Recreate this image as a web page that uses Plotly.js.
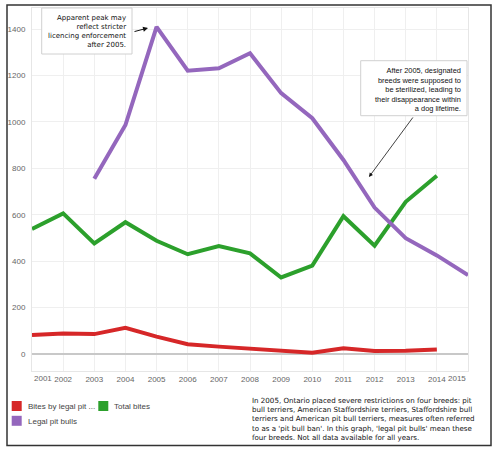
<!DOCTYPE html>
<html>
<head>
<meta charset="utf-8">
<script src="https://cdn.plot.ly/plotly-3.0.1.min.js"></script>
<style>
html,body{margin:0;padding:0;background:#fff;}
#chart{width:500px;height:451px;}
</style>
</head>
<body>
<div id="chart"></div>
<script>
// ---- data ----
var years = [2001,2002,2003,2004,2005,2006,2007,2008,2009,2010,2011,2012,2013,2014,2015];
var bitesByLegalPitBulls = [82,89,86,113,75,42,32,23,11,6,25,13,14,20,null];
var totalBites = [539,606,477,568,488,430,465,434,330,381,594,467,656,768,null];
var legalPitBulls = [null,null,755,987,1410,1221,1231,1296,1124,1016,836,631,499,425,340];
var seriesNames = ["Bites by legal pit ...", "Total bites", "Legal pit bulls"];
var seriesColors = ["#d62728", "#2ca02c", "#9467bd"];
var innerTickYears = [2002,2003,2004,2005,2006,2007,2008,2009,2010,2011,2012,2013,2014];
var innerTickLabels = ["2002","2003","2004","2005","2006","2007","2008","2009","2010","2011","2012","2013","2014"];
var note1Lines = ["Apparent peak may","reflect stricter","licencing enforcement","after 2005."];
var note2Lines = ["After 2005, designated","breeds were supposed to","be sterilized, leading to","their disappearance within","a dog lifetime."];
var footLines = ["In 2005, Ontario placed severe restrictions on four breeds: pit",
  "bull terriers, American Staffordshire terriers, Staffordshire bull",
  "terriers and American pit bull terriers, measures often referred",
  "to as a 'pit bull ban'. In this graph, 'legal pit bulls' mean these",
  "four breeds. Not all data available for all years."];

// ---- geometry helpers (pixel -> paper) ----
var L = 32, R = 468, T = 8, B = 371;
function px(x){ return (x - L) / (R - L); }
function py(y){ return (B - y) / (B - T); }

var traces = [
  {x: years, y: bitesByLegalPitBulls, name: seriesNames[0], mode: 'lines', line: {color: seriesColors[0], width: 4}, showlegend: false, hoverinfo: 'x+y'},
  {x: years, y: totalBites, name: seriesNames[1], mode: 'lines', line: {color: seriesColors[1], width: 4}, showlegend: false, hoverinfo: 'x+y'},
  {x: years, y: legalPitBulls, name: seriesNames[2], mode: 'lines', line: {color: seriesColors[2], width: 4}, showlegend: false, hoverinfo: 'x+y'}
];

var tickFont = {family: 'Liberation Sans, Arial, sans-serif', size: 8, color: '#666'};
var shapes = [];
var annotations = [];

// note boxes
shapes.push({type:'rect', xref:'paper', yref:'paper', x0:px(41.7), x1:px(132), y0:py(8), y1:py(54),
  fillcolor:'#fff', line:{color:'#d0d0d0', width:1}, layer:'above'});
shapes.push({type:'rect', xref:'paper', yref:'paper', x0:px(360.7), x1:px(467), y0:py(60.7), y1:py(115.7),
  fillcolor:'#fff', line:{color:'#d0d0d0', width:1}, layer:'above'});

annotations.push({xref:'paper', yref:'paper', x:px(128), y:py(11.5), xanchor:'right', yanchor:'top',
  align:'right', showarrow:false, text: note1Lines.join('<br>'),
  font:{family:'DejaVu Sans, sans-serif', size:7, color:'#111'}});
annotations.push({xref:'paper', yref:'paper', x:px(463), y:py(63.5), xanchor:'right', yanchor:'top',
  align:'right', showarrow:false, text: note2Lines.join('<br>'),
  font:{family:'Liberation Sans, Arial, sans-serif', size:7.4, color:'#111'}});

// arrows
annotations.push({x:2004.725, y:1405, xref:'x', yref:'y', text:'', showarrow:true, ax:-15, ay:4,
  arrowhead:2, arrowsize:1, arrowwidth:1, arrowcolor:'#111', standoff:0, startstandoff:0});
annotations.push({x:2011.82, y:763, xref:'x', yref:'y', text:'', showarrow:true, ax:45, ay:-61,
  arrowhead:2, arrowsize:1, arrowwidth:0.8, arrowcolor:'#111', standoff:0, startstandoff:0});

// end year tick labels
annotations.push({xref:'paper', yref:'paper', x:0, y:py(371.5), xanchor:'left', yanchor:'top', showarrow:false,
  text: String(years[0]), font: tickFont});
annotations.push({xref:'paper', yref:'paper', x:1, y:py(371.5), xanchor:'right', yanchor:'top', showarrow:false,
  text: String(years[years.length-1]), font: tickFont});

// custom legend
var legendItems = [
  {sx0:11.7, sy0:401, tx:25.5, ty:406.3, idx:0},
  {sx0:98.3, sy0:401, tx:112.3, ty:406.3, idx:1},
  {sx0:11.7, sy0:415.8, tx:25.5, ty:421, idx:2}
];
legendItems.forEach(function(it){
  shapes.push({type:'rect', xref:'paper', yref:'paper', x0:px(it.sx0), x1:px(it.sx0+10), y0:py(it.sy0), y1:py(it.sy0+10),
    fillcolor: seriesColors[it.idx], line:{width:0}, layer:'above'});
  annotations.push({xref:'paper', yref:'paper', x:px(it.tx), y:py(it.ty), xanchor:'left', yanchor:'middle',
    showarrow:false, text: seriesNames[it.idx], font:{family:'Liberation Sans, Arial, sans-serif', size:8, color:'#444'}});
});

// footnote
annotations.push({xref:'paper', yref:'paper', x:px(249.5), y:py(394), xanchor:'left', yanchor:'top', align:'left',
  showarrow:false, text: footLines.join('<br>'),
  font:{family:'DejaVu Sans, sans-serif', size:7.1, color:'#111'}});

// outer frame
shapes.push({type:'rect', xref:'paper', yref:'paper', x0:px(7), x1:px(491), y0:py(5), y1:py(445.5),
  fillcolor:'rgba(0,0,0,0)', line:{color:'#333', width:1.5}, layer:'above'});

var layout = {
  width: 500, height: 451,
  margin: {l: L, r: 500 - R, t: T, b: 451 - B, pad: 0},
  paper_bgcolor: '#fff', plot_bgcolor: '#fff',
  showlegend: false,
  xaxis: {range: [2001, 2015], tickvals: innerTickYears, ticktext: innerTickLabels,
    showgrid: true, gridcolor: '#efefef', gridwidth: 1, zeroline: false,
    showline: true, mirror: true, linecolor: '#e6e6e6', linewidth: 1,
    ticks: '', ticklabelstandoff: 0, tickfont: tickFont, fixedrange: true},
  yaxis: {range: [-73, 1491], tick0: 0, dtick: 200,
    showgrid: true, gridcolor: '#efefef', gridwidth: 1,
    zeroline: true, zerolinecolor: '#c8c8c8', zerolinewidth: 1.5,
    showline: true, mirror: true, linecolor: '#e6e6e6', linewidth: 1,
    ticks: '', ticklabelstandoff: 4, tickfont: tickFont, fixedrange: true},
  shapes: shapes,
  annotations: annotations
};

Plotly.newPlot('chart', traces, layout, {displayModeBar: false, staticPlot: true});
</script>
</body>
</html>
